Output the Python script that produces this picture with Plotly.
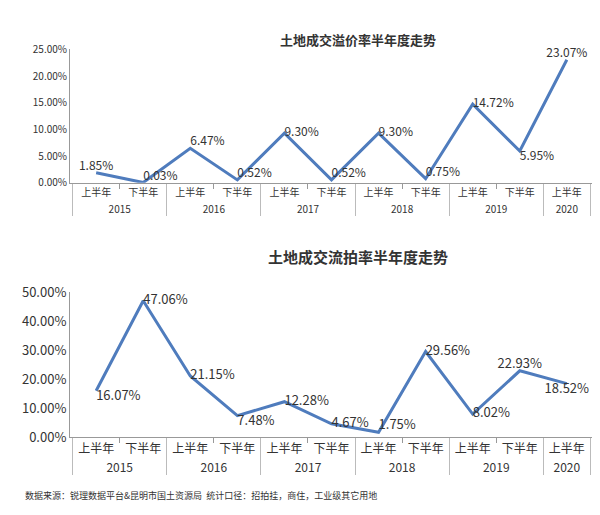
import plotly.graph_objects as go
from plotly.subplots import make_subplots

years = ["2015","2015","2016","2016","2017","2017","2018","2018","2019","2019","2020"]
halves = ["上半年","下半年"]*5 + ["上半年"]
premium = [1.85,0.03,6.47,0.52,9.30,0.52,9.30,0.75,14.72,5.95,23.07]
fail = [16.07,47.06,21.15,7.48,12.28,4.67,1.75,29.56,8.02,22.93,18.52]
pos1 = ["top center","top right","top right","top right","middle right","top right","middle right","top right","middle right","bottom right","top center"]
pos2 = ["bottom right","middle right","middle right","bottom right","middle right","middle right","top right","middle right","middle right","top center","bottom center"]

fig = make_subplots(rows=2, cols=1)
c = "#4f7cbd"
fig.add_trace(go.Scatter(x=[years,halves], y=premium, mode="lines+text", line=dict(color=c,width=3), cliponaxis=False,
    text=[f"{v:.2f}%" for v in premium], textposition=pos1, textfont=dict(size=12,color="#333")), 1, 1)
fig.add_trace(go.Scatter(x=[years,halves], y=fail, mode="lines+text", line=dict(color=c,width=3), cliponaxis=False,
    text=[f"{v:.2f}%" for v in fail], textposition=pos2, textfont=dict(size=13,color="#333")), 2, 1)
fig.update_yaxes(row=1, col=1, domain=[0.675,0.955], range=[0,25], dtick=5, ticksuffix=".00%", showgrid=False, showline=True, linecolor="#999", tickfont=dict(size=10))
fig.update_yaxes(row=2, col=1, domain=[0.14,0.445], range=[0,50], dtick=10, ticksuffix=".00%", showgrid=False, showline=True, linecolor="#999", tickfont=dict(size=13))
fig.update_xaxes(showline=True, linecolor="#999", ticks="outside", tickcolor="#999", showdividers=True, dividercolor="#bbb", tickangle=0)
fig.update_xaxes(row=1, col=1, tickfont=dict(size=10))
fig.update_xaxes(row=2, col=1, tickfont=dict(size=12))
fig.update_layout(width=600, height=515, showlegend=False, plot_bgcolor="white", paper_bgcolor="white",
    font=dict(family="Noto Sans CJK SC", color="#333"), margin=dict(l=62,r=15,t=10,b=10),
    annotations=[
        dict(text="<b>土地成交溢价率半年度走势</b>", x=0.55, y=1.0, xref="paper", yref="paper", showarrow=False, font=dict(size=13)),
        dict(text="<b>土地成交流拍率半年度走势</b>", x=0.55, y=0.52, xref="paper", yref="paper", showarrow=False, font=dict(size=15)),
        dict(text="数据来源：锐理数据平台&昆明市国土资源局  统计口径：招拍挂，商住，工业级其它用地", x=-0.09, y=0.0, xref="paper", yref="paper", xanchor="left", showarrow=False, font=dict(size=9)),
    ])
fig.write_html("out.html")
